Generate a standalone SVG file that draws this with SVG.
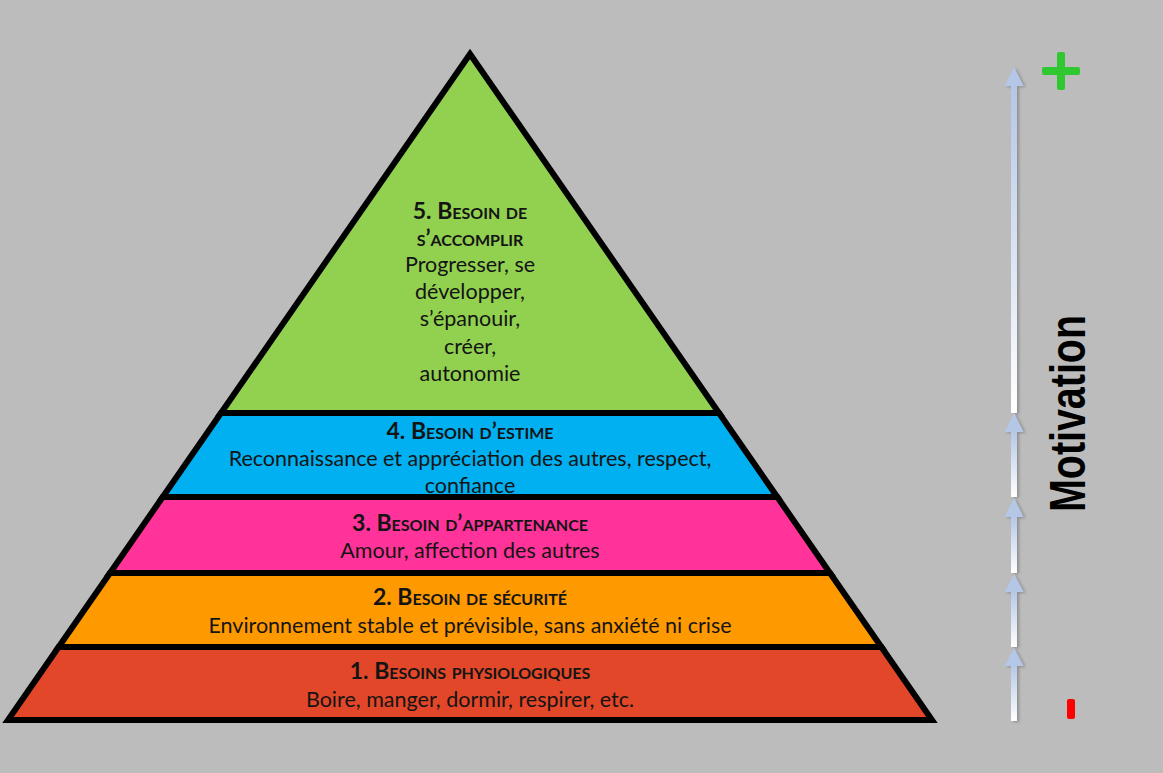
<svg xmlns="http://www.w3.org/2000/svg" width="1163" height="773" viewBox="0 0 1163 773">
  <defs>
    <style>
      .lvl { stroke: #000; stroke-width: 6; stroke-linejoin: miter; }
      .t { font-family: Lato, "Open Sans", "Liberation Sans", sans-serif; font-size: 23px; font-weight: 700; font-variant: small-caps; fill: #141414; text-anchor: middle; }
      .b { font-family: Lato, "Open Sans", "Liberation Sans", sans-serif; font-size: 21.5px; fill: #141414; text-anchor: middle; }
      .head { fill: #B4C7E7; }
      .shaft { fill: url(#shaftGrad); }
    </style>
    <linearGradient id="shaftGrad" x1="0" y1="0" x2="0" y2="1">
      <stop offset="0" stop-color="#B4C7E7"/>
      <stop offset="1" stop-color="#FFFFFF"/>
    </linearGradient>
    <filter id="shadow" x="-50%" y="-10%" width="200%" height="120%">
      <feDropShadow dx="2" dy="1" stdDeviation="1.5" flood-color="#000" flood-opacity="0.25"/>
    </filter>
  </defs>

  <rect x="0" y="0" width="1163" height="773" fill="#BBBCBB"/>

  <g id="level1">
    <polygon class="lvl" fill="#E14728" points="58.6,647 881.4,647 932,720 8,720"/>
    <text class="t" x="470" y="679">1. Besoins physiologiques</text>
    <text class="b" x="470" y="707">Boire, manger, dormir, respirer, etc.</text>
  </g>

  <g id="level2">
    <polygon class="lvl" fill="#FF9900" points="110,573 830,573 881.4,647 58.6,647"/>
    <text class="t" x="470" y="605">2. Besoin de sécurité</text>
    <text class="b" x="470" y="633">Environnement stable et prévisible, sans anxiété ni crise</text>
  </g>

  <g id="level3">
    <polygon class="lvl" fill="#FF3399" points="162.7,497 777.3,497 830,573 110,573"/>
    <text class="t" x="470" y="531">3. Besoin d’appartenance</text>
    <text class="b" x="470" y="558">Amour, affection des autres</text>
  </g>

  <g id="level4">
    <polygon class="lvl" fill="#00B0F0" points="221,413 719,413 777.3,497 162.7,497"/>
    <text class="t" x="470" y="439">4. Besoin d’estime</text>
    <text class="b" x="470" y="466">Reconnaissance et appréciation des autres, respect,</text>
    <text class="b" x="470" y="493">confiance</text>
  </g>

  <g id="level5">
    <polygon class="lvl" fill="#92D050" points="470,54 719,413 221,413"/>
    <text class="t" x="470" y="219">5. Besoin de</text>
    <text class="t" x="470" y="246">s’accomplir</text>
    <text class="b" x="470" y="272">Progresser, se</text>
    <text class="b" x="470" y="299">développer,</text>
    <text class="b" x="470" y="326">s’épanouir,</text>
    <text class="b" x="470" y="354">créer,</text>
    <text class="b" x="470" y="381">autonomie</text>
  </g>

  <g id="connectors" filter="url(#shadow)">
    <rect class="shaft" x="1011" y="85" width="6" height="328"/>
    <polygon class="head" points="1014,67 1023.5,86 1004.5,86"/>
    <rect class="shaft" x="1011" y="431" width="6" height="66"/>
    <polygon class="head" points="1014,413 1023.5,432 1004.5,432"/>
    <rect class="shaft" x="1011" y="516" width="6" height="57"/>
    <polygon class="head" points="1014,498 1023.5,517 1004.5,517"/>
    <rect class="shaft" x="1011" y="591" width="6" height="56"/>
    <polygon class="head" points="1014,574 1023.5,592 1004.5,592"/>
    <rect class="shaft" x="1011" y="665" width="6" height="56"/>
    <polygon class="head" points="1014,648 1023.5,666 1004.5,666"/>
  </g>

  <g id="motivation-label">
    <text transform="translate(1085,413.5) rotate(-90)" text-anchor="middle" font-family="'Liberation Sans Narrow', 'Liberation Sans', Arial, sans-serif" font-weight="700" font-size="50" textLength="197" lengthAdjust="spacingAndGlyphs" fill="#000">Motivation</text>
  </g>

  <g id="plus">
    <rect x="1042" y="67" width="38" height="8" rx="2" fill="#30C830"/>
    <rect x="1057" y="52" width="8" height="38" rx="2" fill="#30C830"/>
  </g>

  <g id="minus">
    <rect x="1067" y="699" width="8" height="20" rx="2" fill="#FF0000"/>
  </g>
</svg>
